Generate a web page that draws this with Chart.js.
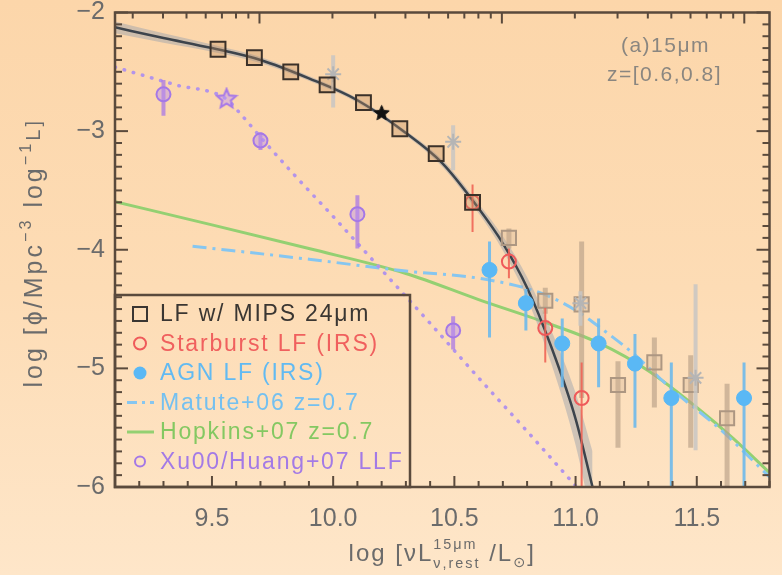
<!DOCTYPE html>
<html>
<head>
<meta charset="utf-8">
<title>15um luminosity function, z=0.6-0.8</title>
<script src="https://cdn.jsdelivr.net/npm/chart.js@4.4.1/dist/chart.umd.min.js"></script>
<style>
  html, body { margin: 0; padding: 0; background: #fddcb5; }
  #wrap { width: 782px; height: 575px; }
</style>
</head>
<body>
<div id="wrap"><canvas id="lf"></canvas></div>
<script>
const FONT = '"Liberation Sans", "DejaVu Sans", sans-serif';

// axis ranges and labelled ticks
const xMin = 9.1, xMax = 11.8, yMin = -6, yMax = -2;
const xTickLabels = [9.5, 10.0, 10.5, 11.0, 11.5];
const yTickLabels = [-6, -5, -4, -3, -2];
const topAxisShift = 0.304;   // top axis decades are offset from log L(15um)

// LF w/ MIPS 24um (well-sampled bins)
const mipsX = [9.525, 9.675, 9.825, 9.975, 10.125, 10.275, 10.425, 10.575];
const mipsY = [-2.31, -2.38, -2.50, -2.61, -2.76, -2.98, -3.19, -3.60];

// LF w/ MIPS 24um (bright, incomplete bins)
const faintX  = [10.725, 10.875, 11.025, 11.175, 11.325, 11.475, 11.625];
const faintY  = [-3.90, -4.43, -4.46, -5.14, -4.95, -5.14, -5.42];
const faintLo = [-3.99, -4.54, -5.25, -5.67, -5.33, -5.67, -6.00];
const faintHi = [-3.82, -4.32, -3.93, -4.94, -4.74, -4.89, -5.13];

// earlier 15um LF points (asterisks)
const astX  = [10.00, 10.495, 11.02, 11.495];
const astY  = [-2.52, -3.09, -4.45, -5.08];
const astLo = [-2.80, -3.33, -4.64, -5.69];
const astHi = [-2.36, -2.95, -4.35, -4.29];

const refStarX = [10.20];
const refStarY = [-2.85];

// Starburst LF (IRS)
const sbX  = [10.575, 10.725, 10.875, 11.025];
const sbY  = [-3.60, -4.10, -4.66, -5.25];
const sbLo = [-3.85, -4.24, -4.95, -6.00];
const sbHi = [-3.45, -3.99, -4.49, -4.95];

// AGN LF (IRS)
const agnX  = [10.645, 10.795, 10.945, 11.095, 11.245, 11.395, 11.695];
const agnY  = [-4.17, -4.45, -4.79, -4.79, -4.96, -5.25, -5.25];
const agnLo = [-4.74, -4.68, -5.16, -5.16, -5.50, -6.00, -6.00];
const agnHi = [-3.93, -4.33, -4.58, -4.58, -4.71, -4.95, -4.95];

// Xu00 / Huang+07 local LF
const llfX  = [9.30, 9.70, 10.10, 10.495];
const llfY  = [-2.69, -3.08, -3.70, -4.68];
const llfLo = [-2.87, -3.16, -3.99, -4.84];
const llfHi = [-2.57, -3.01, -3.54, -4.56];
const llfStarX = [9.56];
const llfStarY = [-2.73];
const llfFitX = [9.10, 9.35, 9.56, 9.62, 9.70, 9.84, 10.0, 10.2, 10.4, 10.6, 10.8, 11.0];
const llfFitY = [-2.46, -2.61, -2.73, -2.86, -3.05, -3.37, -3.72, -4.17, -4.62, -5.08, -5.53, -5.99];

// fit to the MIPS LF and its 1-sigma band
const fitX   = [9.1, 9.3, 9.5, 9.7, 9.9, 10.1, 10.3, 10.45, 10.6, 10.7, 10.8, 10.9, 11.0, 11.07];
const fitY   = [-2.125, -2.215, -2.30, -2.40, -2.555, -2.74, -3.016, -3.27, -3.652, -3.946, -4.32, -4.82, -5.425, -6.0];
const fitErr = [0.05, 0.04, 0.03, 0.025, 0.02, 0.02, 0.02, 0.03, 0.04, 0.06, 0.09, 0.14, 0.22, 0.30];

// Matute+06 and Hopkins+07 at z=0.7
const matX = [9.42, 9.9, 10.3, 10.6, 10.85, 11.0, 11.12, 11.24, 11.39, 11.6, 11.8];
const matY = [-3.97, -4.08, -4.18, -4.24, -4.36, -4.51, -4.685, -4.878, -5.163, -5.52, -5.915];
const hopX = [9.1, 9.5, 9.9, 10.3, 10.6, 10.9, 11.1, 11.3, 11.5, 11.65, 11.8];
const hopY = [-3.595, -3.79, -3.99, -4.20, -4.42, -4.63, -4.79, -5.02, -5.33, -5.59, -5.88];

function pts(xs, ys) { return xs.map((x, i) => ({ x: x, y: ys[i] })); }

function starImage(r, fill, stroke, lw) {
  const c = document.createElement('canvas');
  const s = Math.ceil(2 * r + lw + 2);
  c.width = c.height = s;
  const g = c.getContext('2d');
  g.translate(s / 2, s / 2);
  g.beginPath();
  for (let i = 0; i < 10; i++) {
    const rr = i % 2 ? r * 0.45 : r;
    const a = -Math.PI / 2 + i * Math.PI / 5;
    g.lineTo(rr * Math.cos(a), rr * Math.sin(a));
  }
  g.closePath();
  if (fill) { g.fillStyle = fill; g.fill(); }
  if (stroke) { g.strokeStyle = stroke; g.lineWidth = lw; g.stroke(); }
  return c;
}

const blackStar = starImage(8, '#111', '#111', 1);
const purpleStar = starImage(10, 'rgba(190,150,245,0.45)', '#a678e8', 2);

// first dataset is drawn on top
const datasets = [
  { label: 'ref star', data: pts(refStarX, refStarY), pointStyle: blackStar, pointRadius: 8 },
  { label: 'LF w/ MIPS 24um', data: pts(mipsX, mipsY), pointStyle: 'rect', pointRadius: 10.5,
    borderColor: '#3b3129', borderWidth: 2, backgroundColor: 'rgba(190,140,95,0.35)' },
  { label: 'Starburst LF (IRS)', data: pts(sbX, sbY), pointStyle: 'circle', pointRadius: 7,
    borderColor: '#ef5a5a', borderWidth: 2, backgroundColor: 'rgba(0,0,0,0)',
    errLo: sbLo, errHi: sbHi, errColor: 'rgba(240,100,85,0.9)', errWidth: 2 },
  { label: 'AGN LF (IRS)', data: pts(agnX, agnY), pointStyle: 'circle', pointRadius: 7.5,
    borderColor: '#5ab8f5', borderWidth: 1, backgroundColor: '#5ab8f5',
    errLo: agnLo, errHi: agnHi, errColor: 'rgba(110,185,235,0.9)', errWidth: 3 },
  { label: 'earlier 15um', data: pts(astX, astY), pointStyle: 'star', pointRadius: 8,
    borderColor: '#b5b5b5', borderWidth: 2,
    errLo: astLo, errHi: astHi, errColor: 'rgba(200,198,195,0.85)', errWidth: 4 },
  { label: 'LF w/ MIPS 24um bright', data: pts(faintX, faintY), pointStyle: 'rect', pointRadius: 10,
    borderColor: '#ad9782', borderWidth: 2, backgroundColor: 'rgba(210,180,150,0.3)',
    errLo: faintLo, errHi: faintHi, errColor: 'rgba(185,160,135,0.65)', errWidth: 5 },
  { label: 'Xu00/Huang+07 LLF star', data: pts(llfStarX, llfStarY), pointStyle: purpleStar, pointRadius: 10 },
  { label: 'Xu00/Huang+07 LLF', data: pts(llfX, llfY), pointStyle: 'circle', pointRadius: 7,
    borderColor: '#a578e6', borderWidth: 2, backgroundColor: 'rgba(185,145,240,0.45)',
    errLo: llfLo, errHi: llfHi, errColor: 'rgba(170,120,230,0.75)', errWidth: 4 },
  { label: 'fit', data: pts(fitX, fitY), showLine: true, pointRadius: 0,
    borderColor: '#3d444c', borderWidth: 2.5, cubicInterpolationMode: 'monotone' },
  { label: 'fit hi', data: pts(fitX, fitY.map((v, i) => v + fitErr[i])), showLine: true, pointRadius: 0,
    borderWidth: 0, borderColor: 'rgba(0,0,0,0)', cubicInterpolationMode: 'monotone',
    fill: '+1', backgroundColor: 'rgba(150,160,172,0.45)' },
  { label: 'fit lo', data: pts(fitX, fitY.map((v, i) => v - fitErr[i])), showLine: true, pointRadius: 0,
    borderWidth: 0, borderColor: 'rgba(0,0,0,0)', cubicInterpolationMode: 'monotone' },
  { label: 'LLF fit', data: pts(llfFitX, llfFitY), showLine: true, pointRadius: 0,
    borderColor: '#b394ea', borderWidth: 3.5, borderDash: [0.5, 9], borderCapStyle: 'round',
    cubicInterpolationMode: 'monotone' },
  { label: 'Matute+06 z=0.7', data: pts(matX, matY), showLine: true, pointRadius: 0,
    borderColor: '#86c6f0', borderWidth: 3, borderDash: [14, 6, 3, 6], cubicInterpolationMode: 'monotone' },
  { label: 'Hopkins+07 z=0.7', data: pts(hopX, hopY), showLine: true, pointRadius: 0,
    borderColor: '#94d072', borderWidth: 3, cubicInterpolationMode: 'monotone' }
];

// page background
const backdrop = {
  id: 'backdrop',
  beforeDraw(chart) {
    const { ctx, width, height } = chart;
    const g = ctx.createLinearGradient(0, 0, 0, height);
    g.addColorStop(0, '#fcd6aa');
    g.addColorStop(0.5, '#fddcb5');
    g.addColorStop(1, '#fee6c9');
    ctx.save();
    ctx.fillStyle = g;
    ctx.fillRect(0, 0, width, height);
    ctx.restore();
  }
};

// vertical error bars, drawn under each dataset's markers
const errorBars = {
  id: 'errorBars',
  beforeDatasetDraw(chart, args) {
    const ds = chart.data.datasets[args.index];
    if (!ds.errLo) return;
    const { ctx, chartArea: a } = chart;
    const x = chart.scales.x, y = chart.scales.y;
    ctx.save();
    ctx.beginPath();
    ctx.rect(a.left, a.top, a.width, a.height);
    ctx.clip();
    ctx.strokeStyle = ds.errColor;
    ctx.lineWidth = ds.errWidth;
    ds.data.forEach((p, i) => {
      const px = x.getPixelForValue(p.x);
      ctx.beginPath();
      ctx.moveTo(px, y.getPixelForValue(ds.errLo[i]));
      ctx.lineTo(px, y.getPixelForValue(ds.errHi[i]));
      ctx.stroke();
    });
    ctx.restore();
  }
};

function seg(ctx, x1, y1, x2, y2) {
  ctx.beginPath(); ctx.moveTo(x1, y1); ctx.lineTo(x2, y2); ctx.stroke();
}

// text runs with sizes and baseline shifts; a run may stack a sup over a sub
function richWidth(ctx, runs, size) {
  let w = 0;
  runs.forEach(r => {
    if (r.sup !== undefined) {
      ctx.font = `${size * 0.6}px ${FONT}`;
      w += Math.max(ctx.measureText(r.sup).width, ctx.measureText(r.sub).width);
    } else {
      ctx.font = `${size * (r.s || 1)}px ${FONT}`;
      w += ctx.measureText(r.t).width;
    }
  });
  return w;
}
function drawRich(ctx, runs, cx, baseY, size) {
  let x = cx - richWidth(ctx, runs, size) / 2;
  runs.forEach(r => {
    if (r.sup !== undefined) {
      ctx.font = `${size * 0.6}px ${FONT}`;
      ctx.fillText(r.sup, x, baseY - size * 0.52);
      ctx.fillText(r.sub, x, baseY + size * 0.3);
      x += Math.max(ctx.measureText(r.sup).width, ctx.measureText(r.sub).width);
    } else {
      ctx.font = `${size * (r.s || 1)}px ${FONT}`;
      ctx.fillText(r.t, x, baseY + (r.dy || 0) * size);
      x += ctx.measureText(r.t).width;
    }
  });
}

// frame, inward ticks, legend, titles and panel note
const decor = {
  id: 'decor',
  afterDatasetsDraw(chart) {
    const { ctx, chartArea: a } = chart;
    const x = chart.scales.x, y = chart.scales.y;
    ctx.save();
    ctx.strokeStyle = '#5a4a3c';
    ctx.lineWidth = 2.5;
    ctx.strokeRect(a.left, a.top, a.right - a.left, a.bottom - a.top);

    ctx.lineWidth = 2;
    for (let k = Math.ceil(xMin * 10); k <= Math.floor(xMax * 10); k++) {
      const px = x.getPixelForValue(k / 10);
      seg(ctx, px, a.bottom, px, a.bottom - (k % 5 === 0 ? 11 : 6));
    }
    for (let n = 9; n <= 12; n++) {
      for (let m = 1; m <= 9; m++) {
        const v = n + Math.log10(m) - topAxisShift;
        if (v <= xMin || v >= xMax) continue;
        const px = x.getPixelForValue(v);
        seg(ctx, px, a.top, px, a.top + (m === 1 ? 11 : 6));
      }
    }
    for (let k = yMin * 10; k <= yMax * 10; k++) {
      const py = y.getPixelForValue(k / 10);
      const len = k % 10 === 0 ? 13 : 7;
      seg(ctx, a.left, py, a.left + len, py);
      seg(ctx, a.right, py, a.right - len, py);
    }

    // legend box in the lower-left corner
    const bw = 295, bh = 192;
    ctx.lineWidth = 2.5;
    ctx.strokeRect(a.left, a.bottom - bh, bw, bh);
    const rows = [
      { t: 'LF w/ MIPS 24\u03bcm', c: '#3a3632', sym: 'rect', sc: '#3a3632' },
      { t: 'Starburst LF (IRS)', c: '#f0605e', sym: 'circle', sc: '#ef5a5a' },
      { t: 'AGN LF (IRS)', c: '#62baf2', sym: 'dot', sc: '#5ab8f5' },
      { t: 'Matute+06 z=0.7', c: '#74c0f0', sym: 'dashdot', sc: '#86c6f0' },
      { t: 'Hopkins+07 z=0.7', c: '#84c862', sym: 'line', sc: '#94d072' },
      { t: 'Xu00/Huang+07 LLF', c: '#a37ae6', sym: 'ring', sc: '#a578e6' }
    ];
    const sx = a.left + 25, tx = a.left + 45;
    ctx.font = `23px ${FONT}`;
    ctx.letterSpacing = '1.8px';
    ctx.textBaseline = 'middle';
    rows.forEach((r, i) => {
      const ry = a.bottom - bh + 19 + i * 29.5;
      ctx.strokeStyle = r.sc;
      ctx.fillStyle = r.sc;
      ctx.setLineDash([]);
      if (r.sym === 'rect') {
        ctx.lineWidth = 2; ctx.strokeRect(sx - 7, ry - 7, 14, 14);
      } else if (r.sym === 'circle' || r.sym === 'ring') {
        ctx.lineWidth = 2; ctx.beginPath(); ctx.arc(sx, ry, r.sym === 'ring' ? 5 : 6, 0, 2 * Math.PI); ctx.stroke();
      } else if (r.sym === 'dot') {
        ctx.beginPath(); ctx.arc(sx, ry, 6.5, 0, 2 * Math.PI); ctx.fill();
      } else {
        ctx.lineWidth = 3;
        if (r.sym === 'dashdot') ctx.setLineDash([10, 5, 3, 5]);
        seg(ctx, sx - 13, ry, sx + 14, ry);
        ctx.setLineDash([]);
      }
      ctx.fillStyle = r.c;
      ctx.fillText(r.t, tx, ry + 1);
    });

    // panel note
    ctx.fillStyle = '#8a8680';
    ctx.font = `21px ${FONT}`;
    ctx.letterSpacing = '1.5px';
    ctx.textAlign = 'center';
    ctx.fillText('(a)15\u03bcm', a.right - 104, a.top + 34);
    ctx.fillText('z=[0.6,0.8]', a.right - 105, a.top + 63);

    // axis titles
    ctx.textAlign = 'left';
    ctx.textBaseline = 'alphabetic';
    ctx.fillStyle = '#6b6b6b';
    ctx.letterSpacing = '2px';
    drawRich(ctx, [
      { t: 'log [\u03bdL' },
      { sup: '15\u03bcm', sub: '\u03bd,rest' },
      { t: ' /L' },
      { t: '\u2299', s: 0.6, dy: 0.25 },
      { t: ']' }
    ], (a.left + a.right) / 2, 561, 24);

    ctx.save();
    ctx.letterSpacing = '3px';
    ctx.translate(42, (a.top + a.bottom) / 2 + 3);
    ctx.rotate(-Math.PI / 2);
    drawRich(ctx, [
      { t: 'log [\u03d5/Mpc' },
      { t: '\u22123', s: 0.65, dy: -0.45 },
      { t: ' log' },
      { t: '\u22121', s: 0.65, dy: -0.45 },
      { t: 'L]', s: 0.8, dy: -0.1 }
    ], 0, 0, 25);
    ctx.restore();

    ctx.restore();
  }
};

new Chart(document.getElementById('lf'), {
  type: 'scatter',
  data: { datasets: datasets },
  options: {
    responsive: true,
    maintainAspectRatio: false,
    devicePixelRatio: 1,
    animation: false,
    layout: { padding: { top: 9, right: 1, left: 0, bottom: 0 } },
    plugins: {
      legend: { display: false },
      tooltip: { enabled: false }
    },
    scales: {
      x: {
        type: 'linear', min: xMin, max: xMax,
        afterBuildTicks: s => { s.ticks = xTickLabels.map(v => ({ value: v })); },
        afterFit: s => { s.height = 88; s.paddingLeft = 0; s.paddingRight = 0; },
        grid: { display: false, drawTicks: false },
        border: { display: false },
        ticks: {
          autoSkip: false, maxRotation: 0, padding: 17,
          color: '#6b6b6b', font: { family: FONT, size: 25 },
          callback: v => Number(v).toFixed(1)
        }
      },
      y: {
        type: 'linear', min: yMin, max: yMax,
        afterBuildTicks: s => { s.ticks = yTickLabels.map(v => ({ value: v })); },
        afterFit: s => { s.width = 115; s.paddingTop = 0; s.paddingBottom = 0; },
        grid: { display: false, drawTicks: false },
        border: { display: false },
        ticks: {
          padding: 10,
          color: '#6b6b6b', font: { family: FONT, size: 25 },
          callback: v => (v < 0 ? '\u2212' : '') + Math.abs(v)
        }
      }
    }
  },
  plugins: [backdrop, errorBars, decor]
});
</script>
</body>
</html>
